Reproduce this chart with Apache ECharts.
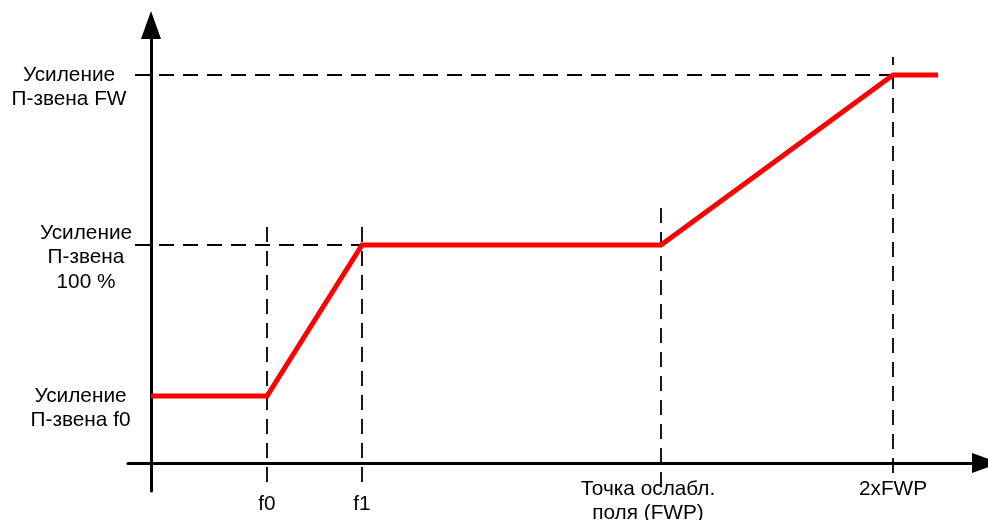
<!DOCTYPE html>
<html>
<head>
<meta charset="utf-8">
<script src="https://cdn.jsdelivr.net/npm/echarts@6/dist/echarts.min.js"></script>
<style>html,body{margin:0;padding:0;background:#fff}#c{width:988px;height:520px}</style>
</head>
<body>
<div id="c"></div>
<script>
// X positions (schematic units)
const xF0 = 1.16, xF1 = 2.11, xFWP = 5.10, x2FWP = 7.42, xEnd = 7.87;
// Gain levels (schematic units)
const gainF0 = 0.67, gain100 = 2.18, gainFW = 3.88;

// Characteristic curve
const curveX = [0, xF0, xF1, xFWP, x2FWP, xEnd];
const curveY = [gainF0, gainF0, gain100, gain100, gainFW, gainFW];

// X tick labels
const xTickValues = [xF0, xF1, xFWP, x2FWP];
const xTickLabels = ['f0', 'f1', 'Точка ослабл.\nполя (FWP)', '2xFWP'];
// Y tick labels
const yTickValues = [gainF0, gain100, gainFW];
const yTickLabels = ['Усиление\nП-звена f0', 'Усиление\nП-звена\n100 %', 'Усиление\nП-звена FW'];

// Dashed guide lines
const hGuideY = [gainFW, gain100];
const hGuideFrom = -0.16;
const hGuideTo = [x2FWP, xF1];
const vGuideX = [xF0, xF1, xFWP, x2FWP];
const vGuideTop = [2.38, 2.38, 2.58, 4.06];
const vGuideBottom = [-0.19, -0.19, -0.24, -0.10];

// Axis extents
const xMin = -0.23, xMax = 8.35, yMin = -0.28, yMax = 4.38;

const FONT = '"Liberation Sans", Arial, sans-serif';
const FS = 20.8, LH = 24.5;
const chart = echarts.init(document.getElementById('c'));

const dashStyle = { color: '#000', width: 1.8, type: [15, 9] };
const guides = [];
hGuideY.forEach((y, i) => guides.push({
  type: 'line', silent: true, symbol: 'none', z: 2,
  lineStyle: dashStyle, data: [[hGuideFrom, y], [hGuideTo[i], y]]
}));
vGuideX.forEach((x, i) => guides.push({
  type: 'line', silent: true, symbol: 'none', z: 2,
  lineStyle: dashStyle, data: [[x, vGuideBottom[i]], [x, vGuideTop[i]]]
}));

const xRichKeys = ['lo', 'lo', 'fwp', 'n'];
const yRichKeys = ['n', 'r', 'l'];
const txt = (extra) => Object.assign({ color: '#000', fontFamily: FONT, fontSize: FS, lineHeight: LH }, extra || {});

chart.setOption({
  animation: false,
  backgroundColor: '#fff',
  grid: { left: 128, right: 2, top: 25, bottom: 29, containLabel: false, outerBoundsMode: 'none' },
  xAxis: {
    type: 'value', min: xMin, max: xMax,
    splitLine: { show: false },
    axisTick: { show: false },
    axisLine: { show: true, onZero: true, lineStyle: { color: '#000', width: 3 },
      symbol: ['none', 'triangle'], symbolSize: [20, 28] },
    axisLabel: {
      customValues: xTickValues,
      margin: -14,
      verticalAlign: 'top',
      align: 'center',
      color: '#000', fontFamily: FONT, fontSize: FS, lineHeight: LH,
      formatter: (v) => {
        const i = xTickValues.indexOf(v);
        return i < 0 ? '' : '{' + xRichKeys[i] + '|' + xTickLabels[i] + '}';
      },
      rich: {
        n: txt(),
        lo: txt({ padding: [31, 0, 0, 0] }),
        fwp: txt({ padding: [0, 26, 0, 0] })
      }
    }
  },
  yAxis: {
    type: 'value', min: yMin, max: yMax,
    splitLine: { show: false },
    axisTick: { show: false },
    axisLine: { show: true, onZero: true, lineStyle: { color: '#000', width: 3 },
      symbol: ['none', 'triangle'], symbolSize: [20, 28] },
    axisLabel: {
      customValues: yTickValues,
      margin: 47.5,
      align: 'center',
      verticalAlign: 'middle',
      padding: [25, 0, 0, 0],
      color: '#000', fontFamily: FONT, fontSize: FS, lineHeight: LH,
      formatter: (v) => {
        const i = yTickValues.indexOf(v);
        return i < 0 ? '' : '{' + yRichKeys[i] + '|' + yTickLabels[i] + '}';
      },
      rich: {
        n: txt({ align: 'center' }),
        r: txt({ align: 'center', padding: [0, 0, 0, 11] }),
        l: txt({ align: 'center', padding: [0, 23, 0, 0] })
      }
    }
  },
  series: guides.concat([{
    type: 'line', silent: true, symbol: 'none', z: 5,
    lineStyle: { color: '#ff0000', width: 5, cap: 'butt', join: 'miter' },
    data: curveX.map((x, i) => [x, curveY[i]])
  }])
});
</script>
</body>
</html>
